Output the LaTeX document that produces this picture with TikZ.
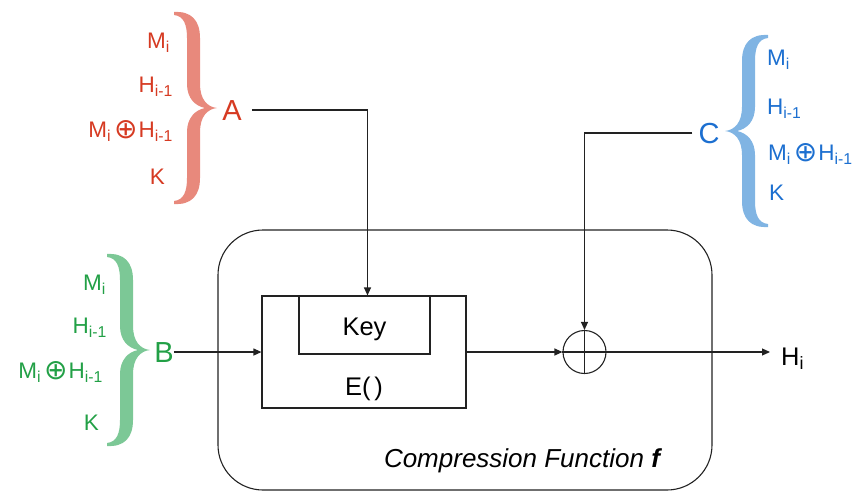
\documentclass[tikz,border=0pt]{standalone}
\usepackage{fontspec}
\setmainfont{Liberation Sans}
\newfontfamily\opf{DejaVu Sans}
\usetikzlibrary{arrows.meta}

\definecolor{redtxt}{HTML}{D63A22}
\definecolor{redbrace}{HTML}{E8897C}
\definecolor{greentxt}{HTML}{22A046}
\definecolor{greenbrace}{HTML}{7CC896}
\definecolor{bluetxt}{HTML}{1C6FD0}
\definecolor{bluebrace}{HTML}{80B4E3}
\definecolor{ink}{HTML}{222222}

\newcommand{\xorsym}{\kern3pt\raisebox{-1.5pt}{\opf\fontsize{28}{28}\selectfont ⊕}\kern1pt}

\tikzset{
  wire/.style={line width=1.1pt, draw=ink},
  arr/.style={wire, -{Triangle[length=8pt,width=7pt]}},
  box/.style={draw=ink, line width=1.1pt, inner sep=0pt},
  lbl/.style={font=\fontsize{22.5}{26}\selectfont, inner sep=0pt},
  biglbl/.style={font=\fontsize{29}{32}\selectfont, inner sep=0pt},
  midlbl/.style={font=\fontsize{25.5}{28}\selectfont, inner sep=0pt},
  % curly brace pointing right, tip at the origin
  pics/bracer/.style={code={
    \fill (-43,-96) .. controls (-26,-97) and (-17,-88) .. (-17,-70)
      -- (-17,-24)
      .. controls (-17,-9) and (-10,-1) .. (0,0)
      .. controls (-10,1) and (-17,9) .. (-17,24)
      -- (-17,70)
      .. controls (-17,88) and (-26,97) .. (-43,96)
      -- (-43,93)
      .. controls (-33,92) and (-30,83) .. (-30,70)
      -- (-30,24)
      .. controls (-30,10) and (-22,2) .. (-12,0)
      .. controls (-22,-2) and (-30,-10) .. (-30,-24)
      -- (-30,-70)
      .. controls (-30,-83) and (-33,-92) .. (-43,-93)
      -- cycle;
  }}
}

\begin{document}
\begin{tikzpicture}[x=1pt, y=-1pt]
\useasboundingbox (0,0) rectangle (862,493);

% compression function frame
\node[box, rounded corners=45pt, minimum width=494pt, minimum height=260pt] (frame) at (465,360) {};

% block cipher E() with its key input
\node[box, minimum width=204pt, minimum height=112pt] (E) at (364,352) {};
\node[box, minimum width=131pt, minimum height=58pt] (Key) at (364.5,325) {};
\node[midlbl, anchor=base] (keytxt) at (364.5,335) {Key};
\node[midlbl, anchor=base] (etxt) at (364,395) {E(\kern4pt)};

% xor combiner
\node[draw=ink, line width=1.1pt, circle, minimum size=43pt, inner sep=0pt] (xor) at (584.5,352) {};
\draw[wire] (xor.north) -- (xor.south);
\draw[wire] (xor.west) -- (xor.east);

% output
\coordinate (outend) at (770,352);
\node[midlbl, anchor=base west] (Hout) at (781,365) {H\textsubscript{i}};

% choices A (key input)
\pic[fill=redbrace] at (217,108) {bracer};
\node[lbl, text=redtxt, anchor=base east] (a1) at (170,48) {M\textsubscript{i}};
\node[lbl, text=redtxt, anchor=base east] (a2) at (173,92) {H\textsubscript{i-1}};
\node[lbl, text=redtxt, anchor=base east] (a3) at (173,137) {M\textsubscript{i}\xorsym H\textsubscript{i-1}};
\node[lbl, text=redtxt, anchor=base east] (a4) at (165,184) {K};
\node[biglbl, text=redtxt, anchor=base] (Albl) at (232,120) {A};

% choices B (plaintext input)
\pic[fill=greenbrace] at (150,350) {bracer};
\node[lbl, text=greentxt, anchor=base east] (b1) at (106,290) {M\textsubscript{i}};
\node[lbl, text=greentxt, anchor=base east] (b2) at (107,333) {H\textsubscript{i-1}};
\node[lbl, text=greentxt, anchor=base east] (b3) at (103,378) {M\textsubscript{i}\xorsym H\textsubscript{i-1}};
\node[lbl, text=greentxt, anchor=base east] (b4) at (99,430) {K};
\node[biglbl, text=greentxt, anchor=base] (Blbl) at (164,362) {B};

% choices C (feed-forward input)
\pic[fill=bluebrace, xscale=-1] at (725,131) {bracer};
\node[lbl, text=bluetxt, anchor=base west] (c1) at (767,65) {M\textsubscript{i}};
\node[lbl, text=bluetxt, anchor=base west] (c2) at (767,114) {H\textsubscript{i-1}};
\node[lbl, text=bluetxt, anchor=base west] (c3) at (768,160) {M\textsubscript{i}\xorsym H\textsubscript{i-1}};
\node[lbl, text=bluetxt, anchor=base west] (c4) at (769,200) {K};
\node[biglbl, text=bluetxt, anchor=base] (Clbl) at (709,143) {C};

% connectors
\draw[arr] ([xshift=10pt]Albl.east) -| ([xshift=3pt]Key.north);
\draw[arr] (Blbl.east) -- (Blbl.east -| E.west);
\draw[arr] ([xshift=-6pt]Clbl.west) -| (xor.north);
\draw[arr] (E.east) -- (xor.west);
\draw[arr] (xor.east) -- (outend);

% caption
\node[font=\fontsize{26}{30}\selectfont, inner sep=0pt, anchor=base] (cap) at (522,467) {\itshape Compression Function \textbf{f}};
\end{tikzpicture}
\end{document}
